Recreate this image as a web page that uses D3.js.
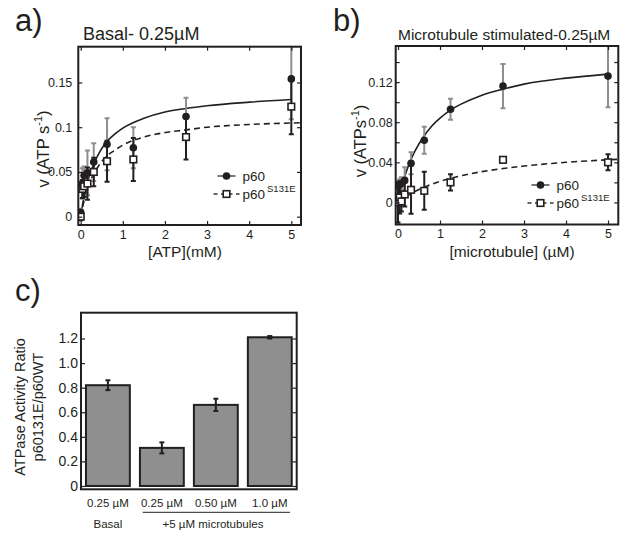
<!DOCTYPE html>
<html>
<head>
<meta charset="utf-8">
<script src="https://cdn.jsdelivr.net/npm/d3@7"></script>
<style>
  body { margin: 0; background: #fff; }
  svg { display: block; font-family: "Liberation Sans", Arial, sans-serif; }
</style>
</head>
<body>
<script>
// ---- data ----
const conc = [0, 0.04, 0.08, 0.16, 0.31, 0.625, 1.25, 2.5, 5];
const concTicks = [0, 1, 2, 3, 4, 5];

// a) basal
const basalP60 = [0.005, 0.037, 0.046, 0.049, 0.061, 0.081, 0.077, 0.112, 0.154];
const basalP60Err = [0.004, 0.017, 0.01, 0.025, 0.021, 0.029, 0.023, 0.021, 0.045];
const basalS131E = [0, 0.031, 0.034, 0.037, 0.050, 0.062, 0.064, 0.089, 0.123];
const basalS131EErr = [0.004, 0.01, 0.012, 0.018, 0.016, 0.023, 0.024, 0.025, 0.031];
const basalFitX = [0, 0.05, 0.1, 0.2, 0.3, 0.4, 0.6, 0.8, 1, 1.5, 2, 2.5, 3, 4, 5];
const basalFitP60 = [0, 0.015, 0.027, 0.045, 0.058, 0.068, 0.083, 0.092, 0.099, 0.110, 0.117, 0.121, 0.124, 0.128, 0.131];
const basalFitX2 = [0, 0.1, 0.2, 0.3, 0.4, 0.6, 0.8, 1, 1.5, 2, 2.5, 3, 4, 5.24];
const basalFitS131E = [0, 0.022, 0.037, 0.047, 0.055, 0.067, 0.074, 0.080, 0.089, 0.094, 0.097, 0.100, 0.103, 0.105];

// b) microtubule stimulated
const mtP60 = [0.016, 0.018, 0.019, 0.022, 0.039, 0.062, 0.093, 0.116, 0.126];
const mtP60Err = [0.005, 0.005, 0.006, 0.013, 0.011, 0.0135, 0.0105, 0.022, 0.031];
const mtS131E = [0, 0.005, 0.001, 0.008, 0.0126, 0.0116, 0.020, 0.0425, 0.040];
const mtS131EErr = [0.02, 0.016, 0.01, 0.012, 0.024, 0.019, 0.008, 0.002, 0.008];
const mtFitX = [0, 0.1, 0.2, 0.3, 0.4, 0.6, 0.8, 1, 1.25, 1.5, 2, 2.5, 3, 4, 5];
const mtFitP60 = [0, 0.017, 0.031, 0.042, 0.051, 0.065, 0.076, 0.084, 0.092, 0.098, 0.107, 0.113, 0.118, 0.124, 0.128];
const mtFitX2 = [0, 0.3, 0.6, 1, 1.25, 1.5, 2, 2.5, 3, 4, 5.24];
const mtFitS131E = [0, 0.0085, 0.0147, 0.021, 0.024, 0.0266, 0.0307, 0.0338, 0.0363, 0.040, 0.043];

// c) ratio bars
const ratioLabels = ["0.25 \u00b5M", "0.25 \u00b5M", "0.50 \u00b5M", "1.0 \u00b5M"];
const ratioValues = [0.82, 0.31, 0.66, 1.21];
const ratioErr = [0.04, 0.045, 0.05, 0.01];
const ratioTicks = [0, 0.2, 0.4, 0.6, 0.8, 1.0, 1.2];

const ink = "#231f20";
const grayErr = "#8e8e8e";

const svg = d3.select("body").append("svg")
  .attr("width", 637)
  .attr("height", 541);

svg.append("rect").attr("width", 637).attr("height", 541).attr("fill", "#fff");

function errBars(g, x, y, xs, ys, es, color, clipId) {
  const eg = g.append("g").attr("clip-path", `url(#${clipId})`)
    .attr("stroke", color).attr("stroke-width", 2).attr("fill", "none");
  xs.forEach((xv, i) => {
    const cx = x(xv), y0 = y(ys[i] - es[i]), y1 = y(ys[i] + es[i]);
    eg.append("line").attr("x1", cx).attr("x2", cx).attr("y1", y0).attr("y2", y1);
    eg.append("line").attr("x1", cx - 2.5).attr("x2", cx + 2.5).attr("y1", y0).attr("y2", y0);
    eg.append("line").attr("x1", cx - 2.5).attr("x2", cx + 2.5).attr("y1", y1).attr("y2", y1);
  });
}

function scatterPanel(o) {
  const g = svg.append("g");
  const x = d3.scaleLinear().domain(o.xDomain).range([o.left, o.right]);
  const y = d3.scaleLinear().domain(o.yDomain).range([o.bottom, o.top]);

  svg.append("clipPath").attr("id", o.id)
    .append("rect").attr("x", o.left).attr("y", o.top)
    .attr("width", o.right - o.left).attr("height", o.bottom - o.top);

  const line = d3.line().x(d => x(d[0])).y(d => y(d[1])).curve(d3.curveMonotoneX);

  // fitted curves
  g.append("path").attr("clip-path", `url(#${o.id})`)
    .datum(o.fitX.map((v, i) => [v, o.fitP60[i]]))
    .attr("d", line).attr("fill", "none").attr("stroke", ink).attr("stroke-width", 1.6);
  g.append("path").attr("clip-path", `url(#${o.id})`)
    .datum(o.fitX2.map((v, i) => [v, o.fitS131E[i]]))
    .attr("d", line).attr("fill", "none").attr("stroke", ink).attr("stroke-width", 1.6)
    .attr("stroke-dasharray", "6,4");

  errBars(g, x, y, conc, o.p60, o.p60Err, grayErr, o.id);
  errBars(g, x, y, conc, o.s131e, o.s131eErr, ink, o.id);

  g.append("g").attr("clip-path", `url(#${o.id})`)
    .selectAll("circle").data(conc).join("circle")
    .attr("cx", d => x(d)).attr("cy", (d, i) => y(o.p60[i]))
    .attr("r", 3.8).attr("fill", ink);

  g.append("g").attr("clip-path", `url(#${o.id})`)
    .selectAll("rect").data(conc).join("rect")
    .attr("x", d => x(d) - 3.3).attr("y", (d, i) => y(o.s131e[i]) - 3.3)
    .attr("width", 6.6).attr("height", 6.6)
    .attr("fill", "#fff").attr("stroke", ink).attr("stroke-width", 1.6);

  // axes, MATLAB style ticks inside, all four sides
  const xb = g.append("g").attr("transform", `translate(0,${o.bottom})`)
    .call(d3.axisBottom(x).tickValues(concTicks).tickSize(-4).tickSizeOuter(0).tickPadding(5)
      .tickFormat(d3.format("d")));
  const xt = g.append("g").attr("transform", `translate(0,${o.top})`)
    .call(d3.axisTop(x).tickValues(concTicks).tickSize(-4).tickSizeOuter(0).tickFormat(""));
  const yl = g.append("g").attr("transform", `translate(${o.left},0)`)
    .call(d3.axisLeft(y).tickValues(o.yTicks).tickSize(-4).tickSizeOuter(0).tickPadding(o.yPad)
      .tickFormat(d => o.yLabels.includes(d) ? String(d) : ""));
  const yr = g.append("g").attr("transform", `translate(${o.right},0)`)
    .call(d3.axisRight(y).tickValues(o.yTicks).tickSize(-4).tickSizeOuter(0).tickFormat(""));
  [xb, xt, yl, yr].forEach(a => {
    a.select(".domain").remove();
    a.selectAll("line").attr("stroke", ink).attr("stroke-width", 1.2);
    a.selectAll("text").attr("fill", ink).attr("font-size", 12.5)
      .attr("font-family", "'Liberation Sans', Arial, sans-serif");
  });

  g.append("rect").attr("x", o.left).attr("y", o.top)
    .attr("width", o.right - o.left).attr("height", o.bottom - o.top)
    .attr("fill", "none").attr("stroke", ink).attr("stroke-width", 2);

  // panel letter and title
  g.append("text").attr("x", o.letterX).attr("y", 31).attr("font-size", 31)
    .attr("fill", ink).text(o.letter);
  g.append("text").attr("x", o.titleX).attr("y", 39.5).attr("font-size", o.titleSize)
    .attr("fill", ink).text(o.title);

  // axis labels
  g.append("text").attr("x", o.xLabelX).attr("y", 256.5).attr("text-anchor", "middle")
    .attr("font-size", 15.5).attr("fill", ink).text(o.xLabel);
  const yt = g.append("text")
    .attr("transform", `translate(${o.yLabelX},${o.yLabelY}) rotate(-90)`)
    .attr("text-anchor", "middle").attr("font-size", 16.5).attr("fill", ink);
  yt.append("tspan").text(o.yLabel);
  yt.append("tspan").attr("dy", -7).attr("font-size", 11).text("-1");
  yt.append("tspan").attr("dy", 7).text(")");

  // legend
  const lg = g.append("g");
  lg.append("line").attr("x1", o.legX - 9).attr("x2", o.legX + 9)
    .attr("y1", o.legY1).attr("y2", o.legY1).attr("stroke", "#555").attr("stroke-width", 1.6);
  lg.append("circle").attr("cx", o.legX).attr("cy", o.legY1).attr("r", 3.8).attr("fill", ink);
  lg.append("text").attr("x", o.legX + 16).attr("y", o.legY1 + 5).attr("font-size", 13.5)
    .attr("fill", ink).text("p60");
  lg.append("line").attr("x1", o.legX - 13).attr("x2", o.legX + 13)
    .attr("y1", o.legY2).attr("y2", o.legY2).attr("stroke", "#333").attr("stroke-width", 1.6)
    .attr("stroke-dasharray", "4,3.5");
  lg.append("rect").attr("x", o.legX - 3.3).attr("y", o.legY2 - 3.3).attr("width", 6.6).attr("height", 6.6)
    .attr("fill", "#fff").attr("stroke", ink).attr("stroke-width", 1.6);
  const lt = lg.append("text").attr("x", o.legX + 16).attr("y", o.legY2 + 5).attr("font-size", 13.5)
    .attr("fill", ink);
  lt.append("tspan").text("p60");
  lt.append("tspan").attr("dy", -7).attr("dx", 2).attr("font-size", 9.5).text("S131E");
}

scatterPanel({
  id: "clipA", left: 78.3, right: 301, top: 46.7, bottom: 225,
  xDomain: [-0.057, 5.23], yDomain: [-0.0093, 0.19],
  yTicks: [0, 0.05, 0.1, 0.15], yLabels: [0, 0.05, 0.1, 0.15], yPad: 6,
  p60: basalP60, p60Err: basalP60Err, s131e: basalS131E, s131eErr: basalS131EErr,
  fitX: basalFitX, fitP60: basalFitP60, fitX2: basalFitX2, fitS131E: basalFitS131E,
  letter: "a)", letterX: 15, title: "Basal- 0.25\u00b5M", titleX: 83, titleSize: 18,
  xLabel: "[ATP](mM)", xLabelX: 185, yLabel: "v (ATP s", yLabelX: 49, yLabelY: 149,
  legX: 226.5, legY1: 176, legY2: 194
});

scatterPanel({
  id: "clipB", left: 395.7, right: 618.3, top: 46, bottom: 224.5,
  xDomain: [-0.055, 5.245], yDomain: [-0.022, 0.156],
  yTicks: [0, 0.02, 0.04, 0.06, 0.08, 0.1, 0.12, 0.14], yLabels: [0, 0.04, 0.08, 0.12], yPad: 3,
  p60: mtP60, p60Err: mtP60Err, s131e: mtS131E, s131eErr: mtS131EErr,
  fitX: mtFitX, fitP60: mtFitP60, fitX2: mtFitX2, fitS131E: mtFitS131E,
  letter: "b)", letterX: 333, title: "Microtubule stimulated-0.25\u00b5M", titleX: 398, titleSize: 15.5,
  xLabel: "[microtubule] (\u00b5M)", xLabelX: 512, yLabel: "v (ATPs", yLabelX: 366, yLabelY: 141,
  legX: 540.5, legY1: 185, legY2: 203
});

// ---- c) bar chart ----
const cLeft = 81, cRight = 296.7, cTop = 312.7, cBottom = 489.3;
const gc = svg.append("g");
const xc = d3.scaleBand().domain(d3.range(ratioValues.length)).range([cLeft, cRight])
  .paddingInner(0.187).paddingOuter(0.092);
const yc = d3.scaleLinear().domain([-0.027, 1.41]).range([cBottom, cTop]);

gc.selectAll("rect.bar").data(ratioValues).join("rect").attr("class", "bar")
  .attr("x", (d, i) => xc(i)).attr("width", xc.bandwidth())
  .attr("y", d => yc(d)).attr("height", d => yc(0) - yc(d))
  .attr("fill", "#8f8f8f").attr("stroke", ink).attr("stroke-width", 2);

const ce = gc.append("g").attr("stroke", ink).attr("stroke-width", 2);
ratioValues.forEach((v, i) => {
  const cx = xc(i) + xc.bandwidth() / 2, y0 = yc(v - ratioErr[i]), y1 = yc(v + ratioErr[i]);
  ce.append("line").attr("x1", cx).attr("x2", cx).attr("y1", y0).attr("y2", y1);
  ce.append("line").attr("x1", cx - 2.5).attr("x2", cx + 2.5).attr("y1", y0).attr("y2", y0);
  ce.append("line").attr("x1", cx - 2.5).attr("x2", cx + 2.5).attr("y1", y1).attr("y2", y1);
});

const cyl = gc.append("g").attr("transform", `translate(${cLeft},0)`)
  .call(d3.axisLeft(yc).tickValues(ratioTicks).tickSize(-4).tickSizeOuter(0).tickPadding(3)
    .tickFormat(d => d === 0 ? "0" : d3.format(".1f")(d)));
const cyr = gc.append("g").attr("transform", `translate(${cRight},0)`)
  .call(d3.axisRight(yc).tickValues(ratioTicks).tickSize(-4).tickSizeOuter(0).tickFormat(""));
[cyl, cyr].forEach(a => {
  a.select(".domain").remove();
  a.selectAll("line").attr("stroke", ink).attr("stroke-width", 1.2);
  a.selectAll("text").attr("fill", ink).attr("font-size", 14)
    .attr("font-family", "'Liberation Sans', Arial, sans-serif");
});

gc.append("rect").attr("x", cLeft).attr("y", cTop)
  .attr("width", cRight - cLeft).attr("height", cBottom - cTop)
  .attr("fill", "none").attr("stroke", ink).attr("stroke-width", 2);

gc.selectAll("text.cat").data(ratioLabels).join("text").attr("class", "cat")
  .attr("x", (d, i) => xc(i) + xc.bandwidth() / 2).attr("y", 506.5)
  .attr("text-anchor", "middle").attr("font-size", 11.5).attr("fill", ink).text(d => d);

gc.append("line").attr("x1", 142.7).attr("x2", 290).attr("y1", 512.3).attr("y2", 512.3)
  .attr("stroke", ink).attr("stroke-width", 1);
gc.append("text").attr("x", xc(0) + xc.bandwidth() / 2).attr("y", 527.5)
  .attr("text-anchor", "middle").attr("font-size", 11.5).attr("fill", ink).text("Basal");
gc.append("text").attr("x", 213).attr("y", 527.5)
  .attr("text-anchor", "middle").attr("font-size", 11.5).attr("fill", ink).text("+5 \u00b5M microtubules");

gc.append("text").attr("x", 15).attr("y", 301).attr("font-size", 31).attr("fill", ink).text("c)");
gc.append("text").attr("transform", "translate(25,407) rotate(-90)")
  .attr("text-anchor", "middle").attr("font-size", 14.5).attr("fill", ink).text("ATPase Activity Ratio");
gc.append("text").attr("transform", "translate(43,407) rotate(-90)")
  .attr("text-anchor", "middle").attr("font-size", 14.5).attr("fill", ink).text("p60131E/p60WT");
</script>
</body>
</html>
